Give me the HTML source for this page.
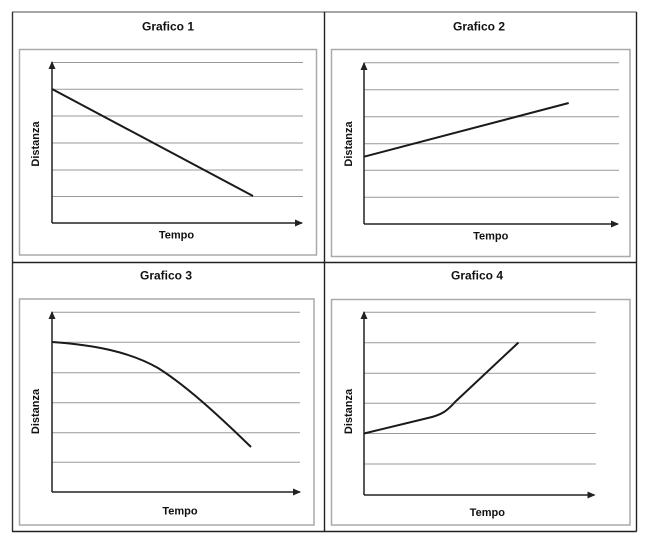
<!DOCTYPE html>
<html>
<head>
<meta charset="utf-8">
<style>
html,body{margin:0;padding:0;background:#fff;}
svg{display:block;}
text{font-family:"Liberation Sans",Arial,sans-serif;font-weight:bold;fill:#111;}
</style>
</head>
<body>
<svg width="650" height="546" viewBox="0 0 650 546" xmlns="http://www.w3.org/2000/svg">
  <defs>
    <marker id="ar" markerWidth="10" markerHeight="10" refX="7" refY="3.5" orient="auto" markerUnits="userSpaceOnUse">
      <path d="M0,0 L8,3.5 L0,7 Z" fill="#222"/>
    </marker>
  </defs>

  <!-- outer frame -->
  <line x1="12" y1="12" x2="636.5" y2="12" stroke="#888" stroke-width="1.4"/>
  <line x1="12.5" y1="12" x2="12.5" y2="531.5" stroke="#333" stroke-width="1.4"/>
  <line x1="636.5" y1="12" x2="636.5" y2="531.5" stroke="#222" stroke-width="1.4"/>
  <line x1="12" y1="531.5" x2="636.5" y2="531.5" stroke="#222" stroke-width="1.4"/>
  <line x1="324.5" y1="12" x2="324.5" y2="531.5" stroke="#222" stroke-width="1.4"/>
  <line x1="12" y1="262.5" x2="636.5" y2="262.5" stroke="#222" stroke-width="1.4"/>

  <!-- inner boxes -->
  <rect x="19.5" y="49.5" width="297" height="205.5" fill="none" stroke="#aaa" stroke-width="1.5"/>
  <rect x="331.5" y="49.5" width="298.5" height="207" fill="none" stroke="#aaa" stroke-width="1.5"/>
  <rect x="19.5" y="299" width="294.5" height="226" fill="none" stroke="#aaa" stroke-width="1.5"/>
  <rect x="331.5" y="299.5" width="298.5" height="225.5" fill="none" stroke="#aaa" stroke-width="1.5"/>

  <!-- titles -->
  <text x="168" y="30.5" font-size="12" text-anchor="middle">Grafico 1</text>
  <text x="479" y="30.5" font-size="12" text-anchor="middle">Grafico 2</text>
  <text x="166" y="279.5" font-size="12" text-anchor="middle">Grafico 3</text>
  <text x="477" y="279.5" font-size="12" text-anchor="middle">Grafico 4</text>

  <!-- Graph 1 -->
  <g stroke="#999" stroke-width="1">
    <line x1="52" y1="62.5" x2="303" y2="62.5"/>
    <line x1="52" y1="89.3" x2="303" y2="89.3"/>
    <line x1="52" y1="116" x2="303" y2="116"/>
    <line x1="52" y1="143" x2="303" y2="143"/>
    <line x1="52" y1="170" x2="303" y2="170"/>
    <line x1="52" y1="196.5" x2="303" y2="196.5"/>
  </g>
  <line x1="52" y1="223" x2="52" y2="62" stroke="#222" stroke-width="1.5" marker-end="url(#ar)"/>
  <line x1="52" y1="223" x2="302" y2="223" stroke="#222" stroke-width="1.5" marker-end="url(#ar)"/>
  <line x1="52" y1="89" x2="253" y2="196" stroke="#1a1a1a" stroke-width="2"/>
  <text x="176.5" y="238.5" font-size="11" text-anchor="middle">Tempo</text>
  <text transform="translate(39,144) rotate(-90)" font-size="11" text-anchor="middle">Distanza</text>

  <!-- Graph 2 -->
  <g stroke="#999" stroke-width="1">
    <line x1="364" y1="62.7" x2="619" y2="62.7"/>
    <line x1="364" y1="89.7" x2="619" y2="89.7"/>
    <line x1="364" y1="116.7" x2="619" y2="116.7"/>
    <line x1="364" y1="143.7" x2="619" y2="143.7"/>
    <line x1="364" y1="170.3" x2="619" y2="170.3"/>
    <line x1="364" y1="197.3" x2="619" y2="197.3"/>
  </g>
  <line x1="364" y1="224" x2="364" y2="63" stroke="#222" stroke-width="1.5" marker-end="url(#ar)"/>
  <line x1="364" y1="224" x2="618" y2="224" stroke="#222" stroke-width="1.5" marker-end="url(#ar)"/>
  <line x1="364" y1="156.7" x2="568.7" y2="103" stroke="#1a1a1a" stroke-width="2"/>
  <text x="490.7" y="239.5" font-size="11" text-anchor="middle">Tempo</text>
  <text transform="translate(352,144) rotate(-90)" font-size="11" text-anchor="middle">Distanza</text>

  <!-- Graph 3 -->
  <g stroke="#999" stroke-width="1">
    <line x1="52" y1="312.3" x2="300" y2="312.3"/>
    <line x1="52" y1="342.3" x2="300" y2="342.3"/>
    <line x1="52" y1="372.7" x2="300" y2="372.7"/>
    <line x1="52" y1="402.7" x2="300" y2="402.7"/>
    <line x1="52" y1="432.7" x2="300" y2="432.7"/>
    <line x1="52" y1="462.3" x2="300" y2="462.3"/>
  </g>
  <line x1="52" y1="492" x2="52" y2="312" stroke="#222" stroke-width="1.5" marker-end="url(#ar)"/>
  <line x1="52" y1="492" x2="300" y2="492" stroke="#222" stroke-width="1.5" marker-end="url(#ar)"/>
  <path d="M52,342 C95,345 130,352 158,368 C185,385 215,412 251,447" fill="none" stroke="#1a1a1a" stroke-width="2"/>
  <text x="180" y="514.5" font-size="11" text-anchor="middle">Tempo</text>
  <text transform="translate(39,411.5) rotate(-90)" font-size="11" text-anchor="middle">Distanza</text>

  <!-- Graph 4 -->
  <g stroke="#999" stroke-width="1">
    <line x1="364" y1="312.3" x2="595.7" y2="312.3"/>
    <line x1="364" y1="342.7" x2="595.7" y2="342.7"/>
    <line x1="364" y1="373.3" x2="595.7" y2="373.3"/>
    <line x1="364" y1="403.3" x2="595.7" y2="403.3"/>
    <line x1="364" y1="433.5" x2="595.7" y2="433.5"/>
    <line x1="364" y1="464" x2="595.7" y2="464"/>
  </g>
  <line x1="364" y1="495" x2="364" y2="312" stroke="#222" stroke-width="1.5" marker-end="url(#ar)"/>
  <line x1="364" y1="495" x2="594.5" y2="495" stroke="#222" stroke-width="1.5" marker-end="url(#ar)"/>
  <path d="M364,433.5 L430,417.5 C442,414.5 447,411 455,402 L518.5,342.5" fill="none" stroke="#1a1a1a" stroke-width="2" stroke-linejoin="round"/>
  <text x="487.3" y="516" font-size="11" text-anchor="middle">Tempo</text>
  <text transform="translate(352,411.5) rotate(-90)" font-size="11" text-anchor="middle">Distanza</text>
</svg>
</body>
</html>
